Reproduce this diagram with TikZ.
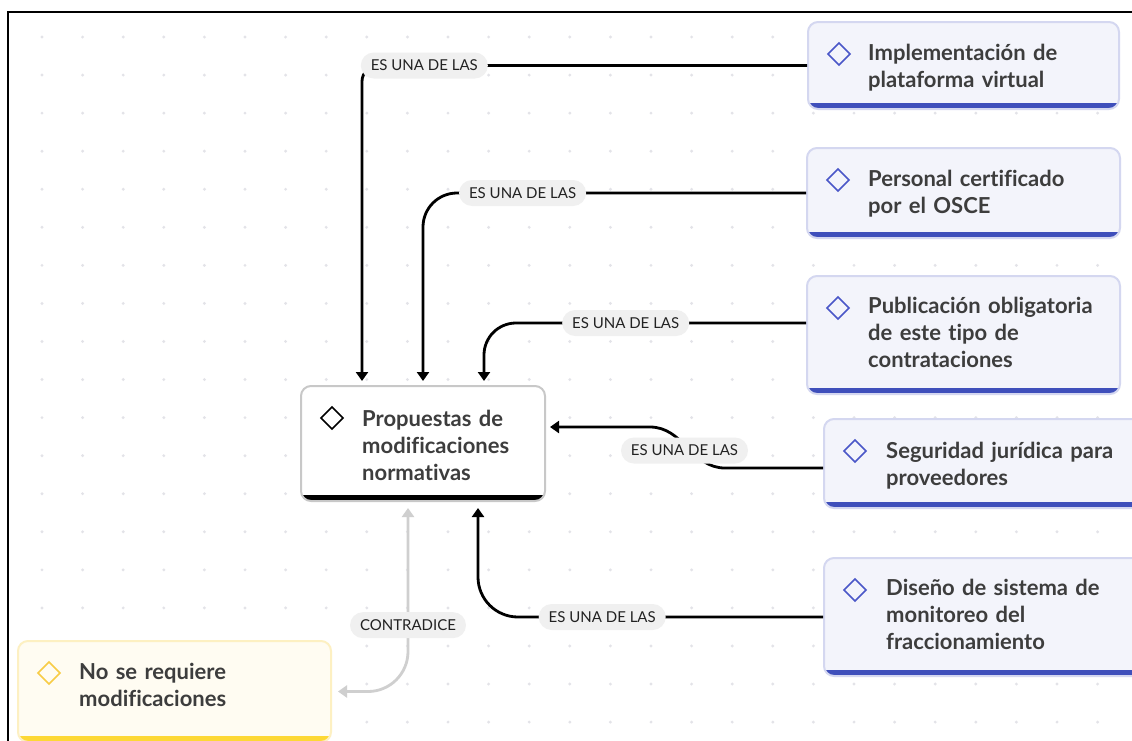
\documentclass[tikz,border=0pt]{standalone}
\usepackage{fontspec}
\setmainfont{Lato}[Ligatures=NoCommon]
\usetikzlibrary{arrows.meta}

\definecolor{dotgray}{HTML}{E3E3E8}
\definecolor{cardfill}{HTML}{F3F4FB}
\definecolor{cardline}{HTML}{D4D7F0}
\definecolor{barblue}{HTML}{3F4FBB}
\definecolor{iconblue}{HTML}{4A57C8}
\definecolor{mainline}{HTML}{C8C8C8}
\definecolor{noterfill}{HTML}{FFFCF2}
\definecolor{noteline}{HTML}{FDF0C2}
\definecolor{notebar}{HTML}{FDD835}
\definecolor{noteicon}{HTML}{F8CC45}
\definecolor{tagfill}{HTML}{F0F0F0}
\definecolor{tagtext}{HTML}{222222}
\definecolor{cardtextc}{HTML}{3D3D3D}
\definecolor{contragray}{HTML}{CFCFCF}

\tikzset{
  card/.style={rectangle, rounded corners=10pt, line width=2pt,
    anchor=north west, inner sep=0pt},
  cardbar/.style 2 args={path picture={
      \fill[#1, sharp corners] ([yshift=6pt]path picture bounding box.south west)
        rectangle (path picture bounding box.south east);
      \draw[#2, sharp corners, line width=1.6pt, line join=miter]
        ([xshift=31pt,yshift=-32pt]path picture bounding box.north west)
        +(0,-11) -- +(11,0) -- +(0,11) -- +(-11,0) -- cycle;}},
  bluecard/.style={card, fill=cardfill, draw=cardline, cardbar={barblue}{iconblue}},
  maincard/.style={card, fill=white, draw=mainline, cardbar={black}{black}},
  notecard/.style={card, fill=noterfill, draw=noteline, cardbar={notebar}{noteicon}},
  cardtext/.style={anchor=base west, inner sep=0pt, text width=#1, align=left,
    text=cardtextc, font=\bfseries\fontsize{22}{27}\selectfont},
  cardtext/.default=270pt,
  tag/.style={fill=tagfill, rounded corners=13pt, minimum height=26pt,
    inner xsep=10pt, inner ysep=0pt, text=tagtext,
    font=\fontsize{15}{16}\selectfont},
  link/.style={line width=2.8pt, -{Triangle[length=9pt,width=12pt]}},
  contra/.style={line width=2.8pt, contragray,
    {Triangle[length=9pt,width=12pt]}-{Triangle[length=9pt,width=12pt]},
    shorten <=6pt, shorten >=6pt}
}

\begin{document}
\begin{tikzpicture}[x=1pt,y=-1pt]
  \clip (0,0) rectangle (1132,740);
  \fill[white] (0,0) rectangle (1132,740);

  % dotted grid
  \foreach \i in {0,...,26} {
    \foreach \j in {0,...,18} {
      \fill[dotgray] ({42+40.6*\i},{37+38.06*\j}) circle (1.6);
    }
  }

  % frame
  \draw[line width=2.5pt] (8,745) -- (8,12) -- (1140,12);

  % cards
  \node[maincard, minimum width=244, minimum height=115] (prop) at (300,385) {};
  \node[cardtext=200pt] (prop-t) at ([shift={(62,41)}]prop.north west)
    {Propuestas de\\modificaciones\\normativas};

  \node[bluecard, minimum width=311, minimum height=87] (impl) at (807,21) {};
  \node[cardtext] (impl-t) at ([shift={(61,39)}]impl.north west)
    {Implementación de\\plataforma virtual};

  \node[bluecard, minimum width=313, minimum height=90] (pers) at (806,147) {};
  \node[cardtext] (pers-t) at ([shift={(62,39)}]pers.north west)
    {Personal certificado\\por el OSCE};

  \node[bluecard, minimum width=313, minimum height=118] (pub) at (806,275) {};
  \node[cardtext] (pub-t) at ([shift={(62,38)}]pub.north west)
    {Publicación obligatoria\\de este tipo de\\contrataciones};

  \node[bluecard, minimum width=322, minimum height=89] (seg) at (823,418) {};
  \node[cardtext] (seg-t) at ([shift={(63,40)}]seg.north west)
    {Seguridad jurídica para\\proveedores};

  \node[bluecard, minimum width=322, minimum height=118] (dis) at (823,557) {};
  \node[cardtext] (dis-t) at ([shift={(63,38)}]dis.north west)
    {Diseño de sistema de\\monitoreo del\\fraccionamiento};

  \node[notecard, minimum width=313, minimum height=101] (no) at (17,640) {};
  \node[cardtext=240pt] (no-t) at ([shift={(62,39)}]no.north west)
    {No se requiere\\modificaciones};

  % connectors
  \draw[link, rounded corners=16pt, shorten >=4pt] (impl.west)
    -| node[tag, pos=0.43] {ES UNA DE LAS} ([xshift=62]prop.north west);
  \draw[link, rounded corners=34pt, shorten >=4pt] (pers.west)
    -| node[tag, pos=0.37] {ES UNA DE LAS} ([xshift=123]prop.north west);
  \draw[link, rounded corners=32pt, shorten >=4pt] ([yshift=12]pub.west)
    -| node[tag, pos=0.28] {ES UNA DE LAS} ([xshift=184]prop.north west);
  \draw[link, shorten >=4pt] ([yshift=-4.5]seg.west) -- ++(-98,0)
    to[out=180,in=0] node[tag, xshift=-3, yshift=-3] {ES UNA DE LAS} ++(-75,-41)
    -- ([yshift=16.5]prop.east);
  \draw[link, rounded corners=40pt, shorten >=6pt] (dis.west)
    -| node[tag, pos=0.32] {ES UNA DE LAS} ([xshift=178]prop.south west);
  \draw[contra, rounded corners=40pt] (no.east)
    -| node[tag, pos=0.675] {CONTRADICE} ([xshift=108]prop.south west);
\end{tikzpicture}
\end{document}
